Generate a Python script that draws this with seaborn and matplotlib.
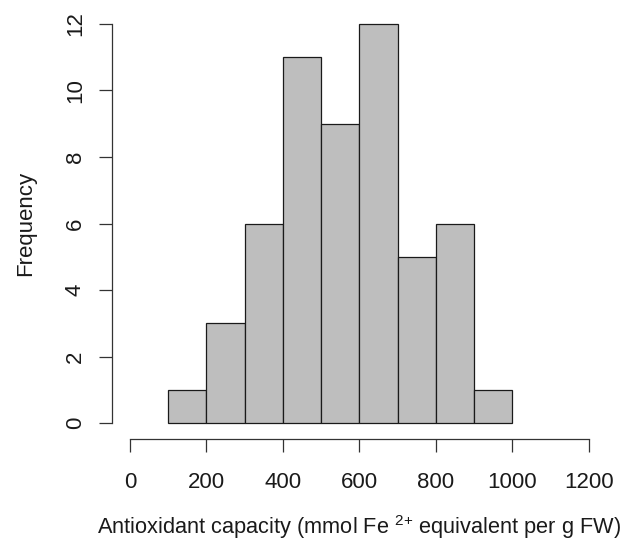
import numpy as np
import pandas as pd
import seaborn as sns
import matplotlib
matplotlib.use("Agg")
import matplotlib.pyplot as plt

# Histogram data
bin_edges = [100, 200, 300, 400, 500, 600, 700, 800, 900, 1000]
counts = [1, 3, 6, 11, 9, 12, 5, 6, 1]
x_ticks = [0, 200, 400, 600, 800, 1000, 1200]
y_ticks = [0, 2, 4, 6, 8, 10, 12]

centers = [(a + b) / 2 for a, b in zip(bin_edges[:-1], bin_edges[1:])]
df = pd.DataFrame({"value": centers, "count": counts})

sns.set_style("white")
plt.rcParams["font.family"] = ["Liberation Sans", "DejaVu Sans"]
plt.rcParams["mathtext.fontset"] = "custom"
plt.rcParams["mathtext.rm"] = "Liberation Sans"
plt.rcParams["mathtext.it"] = "Liberation Sans"
plt.rcParams["mathtext.default"] = "rm"

fig = plt.figure(figsize=(6.4, 5.45), dpi=100)
ax = fig.add_axes([0.1744, 0.1945, 0.9490 - 0.1744, 0.9853 - 0.1945])

sns.histplot(data=df, x="value", weights="count", bins=bin_edges, ax=ax,
             color="#bebebe", edgecolor="#1a1a1a", linewidth=0.9, alpha=1.0)

ax.set_xlim(-48, 1248)
ax.set_ylim(-0.48, 12.48)
ax.set_xticks(x_ticks)
ax.set_yticks(y_ticks)
ax.set_xticklabels([str(v) for v in x_ticks])
ax.set_yticklabels([str(v) for v in y_ticks], rotation=90, va="center")

for s in ["top", "right"]:
    ax.spines[s].set_visible(False)
ax.spines["left"].set_bounds(0, 12)
ax.spines["bottom"].set_bounds(0, 1200)
for s in ["left", "bottom"]:
    ax.spines[s].set_color("#333333")
    ax.spines[s].set_linewidth(0.9)

fs = 16
ax.tick_params(axis="both", which="major", length=9.5, width=0.9, color="#333333",
               labelsize=fs, labelcolor="#1a1a1a", direction="out", pad=14,
               left=True, bottom=True)
ax.tick_params(axis="y", pad=9)

ax.set_xlabel(r"Antioxidant capacity (mmol Fe $^{2{+}}$ equivalent per g FW)",
              fontsize=15.7, color="#1a1a1a", labelpad=15)
ax.set_ylabel("Frequency", fontsize=fs, color="#1a1a1a", labelpad=21)
ax.grid(False)

fig.savefig("out.png", dpi=100)
